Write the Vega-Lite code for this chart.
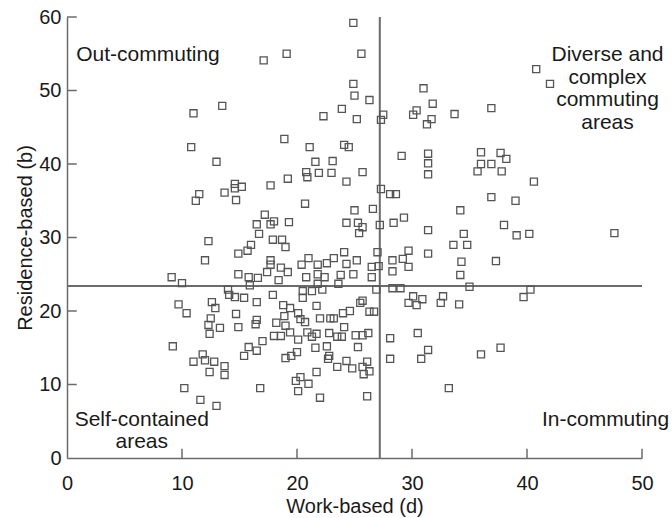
{
  "$schema": "https://vega.github.io/schema/vega-lite/v6.json",
  "width": 575,
  "height": 441,
  "autosize": "none",
  "padding": {"left": 67, "top": 17, "right": 30, "bottom": 60},
  "background": "white",
  "datasets": {
    "points": [
      {"x":24.9,"y":59.2},{"x":17.1,"y":54.1},{"x":19.1,"y":55.0},{"x":25.6,"y":55.0},{"x":11.0,"y":46.9},{"x":13.5,"y":47.9},{"x":10.8,"y":42.3},{"x":13.0,"y":40.3},{"x":40.8,"y":52.9},{"x":42.0,"y":50.9},
      {"x":33.7,"y":46.8},{"x":36.9,"y":47.6},{"x":36.0,"y":41.6},{"x":37.7,"y":41.5},{"x":38.2,"y":40.7},{"x":36.0,"y":40.0},{"x":36.9,"y":40.0},{"x":35.7,"y":39.0},{"x":37.8,"y":39.0},{"x":40.6,"y":37.6},
      {"x":31.0,"y":50.3},{"x":24.9,"y":50.9},{"x":25.0,"y":49.3},{"x":26.3,"y":48.7},{"x":31.8,"y":48.2},{"x":23.9,"y":47.5},{"x":27.5,"y":46.7},{"x":27.3,"y":46.0},{"x":30.4,"y":47.3},{"x":30.1,"y":46.7},
      {"x":31.7,"y":46.1},{"x":31.3,"y":45.4},{"x":22.3,"y":46.5},{"x":25.2,"y":46.1},{"x":18.9,"y":43.4},{"x":21.1,"y":42.3},{"x":24.1,"y":42.6},{"x":24.5,"y":42.3},{"x":29.1,"y":41.1},{"x":31.4,"y":41.4},
      {"x":31.4,"y":40.1},{"x":31.4,"y":38.6},{"x":21.6,"y":40.3},{"x":23.1,"y":40.4},{"x":20.8,"y":38.9},{"x":20.9,"y":38.2},{"x":21.9,"y":38.8},{"x":23.0,"y":38.8},{"x":25.7,"y":38.9},{"x":19.2,"y":38.0},
      {"x":17.7,"y":37.1},{"x":24.3,"y":37.6},{"x":27.3,"y":36.6},{"x":28.1,"y":35.9},{"x":28.6,"y":35.9},{"x":14.6,"y":37.3},{"x":15.2,"y":36.9},{"x":14.6,"y":36.7},{"x":13.7,"y":36.1},{"x":11.5,"y":35.9},
      {"x":11.2,"y":35.0},{"x":14.7,"y":35.1},{"x":16.5,"y":31.8},{"x":16.7,"y":30.5},{"x":12.3,"y":29.5},{"x":16.0,"y":29.0},{"x":15.7,"y":28.2},{"x":14.9,"y":27.8},{"x":12.0,"y":26.9},{"x":9.1,"y":24.6},
      {"x":10.0,"y":23.8},{"x":14.9,"y":25.0},{"x":15.8,"y":24.6},{"x":16.6,"y":24.5},{"x":15.9,"y":23.5},{"x":14.0,"y":22.9},{"x":14.1,"y":22.2},{"x":14.6,"y":21.9},{"x":15.4,"y":21.8},{"x":16.5,"y":21.2},
      {"x":9.7,"y":20.9},{"x":10.4,"y":19.7},{"x":12.6,"y":21.2},{"x":12.9,"y":20.4},{"x":14.7,"y":19.6},{"x":16.5,"y":18.8},{"x":12.5,"y":19.0},{"x":12.3,"y":18.1},{"x":13.3,"y":17.7},{"x":14.9,"y":17.8},
      {"x":16.4,"y":18.2},{"x":12.4,"y":16.9},{"x":9.2,"y":15.2},{"x":11.8,"y":14.1},{"x":11.0,"y":13.1},{"x":12.0,"y":13.3},{"x":12.8,"y":13.1},{"x":13.7,"y":12.5},{"x":12.4,"y":11.7},{"x":13.7,"y":11.3},
      {"x":15.4,"y":13.9},{"x":15.8,"y":15.1},{"x":16.5,"y":14.6},{"x":17.0,"y":15.9},{"x":10.2,"y":9.5},{"x":11.6,"y":7.9},{"x":13.0,"y":7.1},{"x":16.8,"y":9.5},{"x":18.2,"y":18.4},{"x":19.0,"y":18.0},
      {"x":20.3,"y":18.9},{"x":20.7,"y":18.5},{"x":22.0,"y":19.0},{"x":22.9,"y":19.0},{"x":23.2,"y":19.0},{"x":18.0,"y":16.6},{"x":18.6,"y":16.6},{"x":19.4,"y":17.1},{"x":20.1,"y":16.1},{"x":20.9,"y":17.1},
      {"x":21.3,"y":16.5},{"x":21.7,"y":16.9},{"x":22.8,"y":17.0},{"x":23.5,"y":16.5},{"x":23.9,"y":16.5},{"x":24.1,"y":17.8},{"x":25.1,"y":16.7},{"x":25.7,"y":16.7},{"x":26.2,"y":17.0},{"x":25.3,"y":15.1},
      {"x":21.6,"y":15.0},{"x":22.6,"y":15.2},{"x":20.0,"y":14.4},{"x":19.0,"y":13.6},{"x":19.5,"y":13.9},{"x":22.8,"y":13.9},{"x":22.7,"y":13.5},{"x":24.3,"y":13.2},{"x":23.5,"y":12.4},{"x":24.8,"y":12.2},
      {"x":26.1,"y":13.1},{"x":25.7,"y":12.4},{"x":26.3,"y":11.8},{"x":25.8,"y":11.4},{"x":21.7,"y":11.7},{"x":20.3,"y":11.0},{"x":19.9,"y":10.5},{"x":21.0,"y":10.1},{"x":20.1,"y":9.1},{"x":22.0,"y":8.2},
      {"x":26.1,"y":8.4},{"x":28.1,"y":16.3},{"x":30.5,"y":17.0},{"x":31.4,"y":14.7},{"x":30.8,"y":13.5},{"x":28.1,"y":13.5},{"x":33.2,"y":9.5},{"x":36.0,"y":14.1},{"x":37.7,"y":15.0},{"x":36.9,"y":35.5},
      {"x":39.0,"y":35.0},{"x":34.2,"y":33.7},{"x":38.0,"y":31.7},{"x":34.5,"y":30.5},{"x":39.1,"y":30.3},{"x":40.2,"y":30.5},{"x":47.6,"y":30.6},{"x":33.6,"y":29.0},{"x":34.8,"y":29.0},{"x":34.3,"y":26.7},
      {"x":37.3,"y":26.8},{"x":34.2,"y":24.9},{"x":35.0,"y":23.3},{"x":40.3,"y":22.9},{"x":39.7,"y":21.9},{"x":32.7,"y":22.0},{"x":32.5,"y":21.1},{"x":34.1,"y":20.9},{"x":20.7,"y":34.6},{"x":25.0,"y":33.7},
      {"x":26.6,"y":33.9},{"x":17.2,"y":33.1},{"x":17.7,"y":31.8},{"x":18.0,"y":32.2},{"x":19.3,"y":32.1},{"x":24.3,"y":32.0},{"x":25.3,"y":32.0},{"x":25.7,"y":31.4},{"x":25.4,"y":30.6},{"x":27.2,"y":31.7},
      {"x":28.4,"y":32.0},{"x":29.3,"y":32.7},{"x":31.4,"y":31.0},{"x":17.9,"y":29.7},{"x":18.7,"y":29.7},{"x":19.0,"y":28.7},{"x":24.1,"y":28.0},{"x":27.0,"y":28.0},{"x":29.7,"y":28.2},{"x":31.4,"y":27.8},
      {"x":25.2,"y":26.9},{"x":23.2,"y":27.2},{"x":21.0,"y":27.2},{"x":20.4,"y":26.3},{"x":21.8,"y":26.3},{"x":22.6,"y":26.5},{"x":24.3,"y":26.4},{"x":17.7,"y":26.9},{"x":17.7,"y":26.3},{"x":18.6,"y":25.9},
      {"x":17.4,"y":25.3},{"x":19.2,"y":25.3},{"x":18.4,"y":24.2},{"x":20.8,"y":24.6},{"x":21.8,"y":25.0},{"x":22.4,"y":24.6},{"x":23.8,"y":24.9},{"x":24.9,"y":25.0},{"x":26.5,"y":26.0},{"x":27.1,"y":26.1},
      {"x":26.5,"y":24.6},{"x":28.3,"y":26.9},{"x":29.2,"y":27.1},{"x":29.7,"y":26.0},{"x":28.3,"y":25.4},{"x":21.8,"y":23.7},{"x":23.6,"y":23.7},{"x":20.5,"y":22.7},{"x":21.3,"y":22.7},{"x":22.2,"y":22.9},
      {"x":26.9,"y":22.9},{"x":28.3,"y":23.1},{"x":29.0,"y":23.1},{"x":17.9,"y":22.2},{"x":20.5,"y":21.8},{"x":18.8,"y":20.8},{"x":19.4,"y":20.4},{"x":21.7,"y":20.7},{"x":25.5,"y":21.1},{"x":25.7,"y":21.4},
      {"x":24.6,"y":20.0},{"x":24.0,"y":19.7},{"x":26.3,"y":19.9},{"x":26.7,"y":19.9},{"x":20.1,"y":19.7},{"x":18.9,"y":19.3},{"x":30.1,"y":22.0},{"x":30.9,"y":21.6},{"x":29.7,"y":21.1},{"x":30.4,"y":20.8}
    ],
    "vline": [{"x": 27.2}],
    "hline": [{"y": 23.4}],
    "ticksX": [{"t": 10}, {"t": 20}, {"t": 30}, {"t": 40}, {"t": 50}],
    "ticksY": [{"t": 10}, {"t": 20}, {"t": 30}, {"t": 40}, {"t": 50}, {"t": 60}],
    "labelsLeft": [
      {"label": "Out-commuting", "x": 0.8, "y": 54.8},
      {"label": "In-commuting", "x": 41.3, "y": 5.2}
    ],
    "labelsCenter": [
      {"label": "Diverse and\ncomplex\ncommuting\nareas", "x": 47.0, "y": 54.8},
      {"label": "Self-contained\nareas", "x": 6.5, "y": 5.2}
    ]
  },
  "layer": [
    {
      "data": {"name": "vline"},
      "mark": {"type": "rule", "color": "#6b6b6b", "strokeWidth": 2},
      "encoding": {
        "x": {"field": "x", "type": "quantitative", "scale": {"domain": [0, 50], "nice": false}, "title": "Work-based (d)"}
      }
    },
    {
      "data": {"name": "hline"},
      "mark": {"type": "rule", "color": "#6b6b6b", "strokeWidth": 2},
      "encoding": {
        "y": {"field": "y", "type": "quantitative", "scale": {"domain": [0, 60], "nice": false}, "title": "Residence-based (b)"}
      }
    },
    {
      "data": {"name": "ticksX"},
      "mark": {"type": "rule", "color": "#6b6b6b", "strokeWidth": 1.5},
      "encoding": {
        "x": {"field": "t", "type": "quantitative", "title": "Work-based (d)"},
        "y": {"datum": 0},
        "y2": {"datum": 1.25}
      }
    },
    {
      "data": {"name": "ticksY"},
      "mark": {"type": "rule", "color": "#6b6b6b", "strokeWidth": 1.5},
      "encoding": {
        "y": {"field": "t", "type": "quantitative", "title": "Residence-based (b)"},
        "x": {"datum": 0},
        "x2": {"datum": 0.85}
      }
    },
    {
      "data": {"name": "points"},
      "mark": {"type": "point", "shape": "square", "filled": false, "size": 50, "stroke": "#555555", "strokeWidth": 1.3, "opacity": 1},
      "encoding": {
        "x": {"field": "x", "type": "quantitative", "title": "Work-based (d)", "axis": {"values": [0, 10, 20, 30, 40, 50]}},
        "y": {"field": "y", "type": "quantitative", "title": "Residence-based (b)", "axis": {"values": [0, 10, 20, 30, 40, 50, 60]}}
      }
    },
    {
      "data": {"name": "labelsLeft"},
      "mark": {"type": "text", "align": "left", "baseline": "middle", "font": "Liberation Sans", "fontSize": 21, "color": "#1a1a1a"},
      "encoding": {
        "x": {"field": "x", "type": "quantitative", "title": "Work-based (d)"},
        "y": {"field": "y", "type": "quantitative", "title": "Residence-based (b)"},
        "text": {"field": "label"}
      }
    },
    {
      "data": {"name": "labelsCenter"},
      "mark": {"type": "text", "align": "center", "baseline": "middle", "font": "Liberation Sans", "fontSize": 21, "lineHeight": 22.5, "lineBreak": "\n", "color": "#1a1a1a"},
      "encoding": {
        "x": {"field": "x", "type": "quantitative", "title": "Work-based (d)"},
        "y": {"field": "y", "type": "quantitative", "title": "Residence-based (b)"},
        "text": {"field": "label"}
      }
    }
  ],
  "config": {
    "view": {"stroke": null},
    "axis": {
      "grid": false,
      "ticks": false,
      "tickSize": 0,
      "domainColor": "#6b6b6b",
      "domainWidth": 1.5,
      "labelFont": "Liberation Sans",
      "labelFontSize": 20,
      "labelColor": "#1a1a1a",
      "titleFont": "Liberation Sans",
      "titleFontSize": 20,
      "titleFontWeight": "normal",
      "titleColor": "#1a1a1a"
    },
    "axisX": {"labelPadding": 15, "titlePadding": 3, "labelFlush": false},
    "axisY": {"labelPadding": 6, "titlePadding": 3, "labelFlush": false}
  }
}
